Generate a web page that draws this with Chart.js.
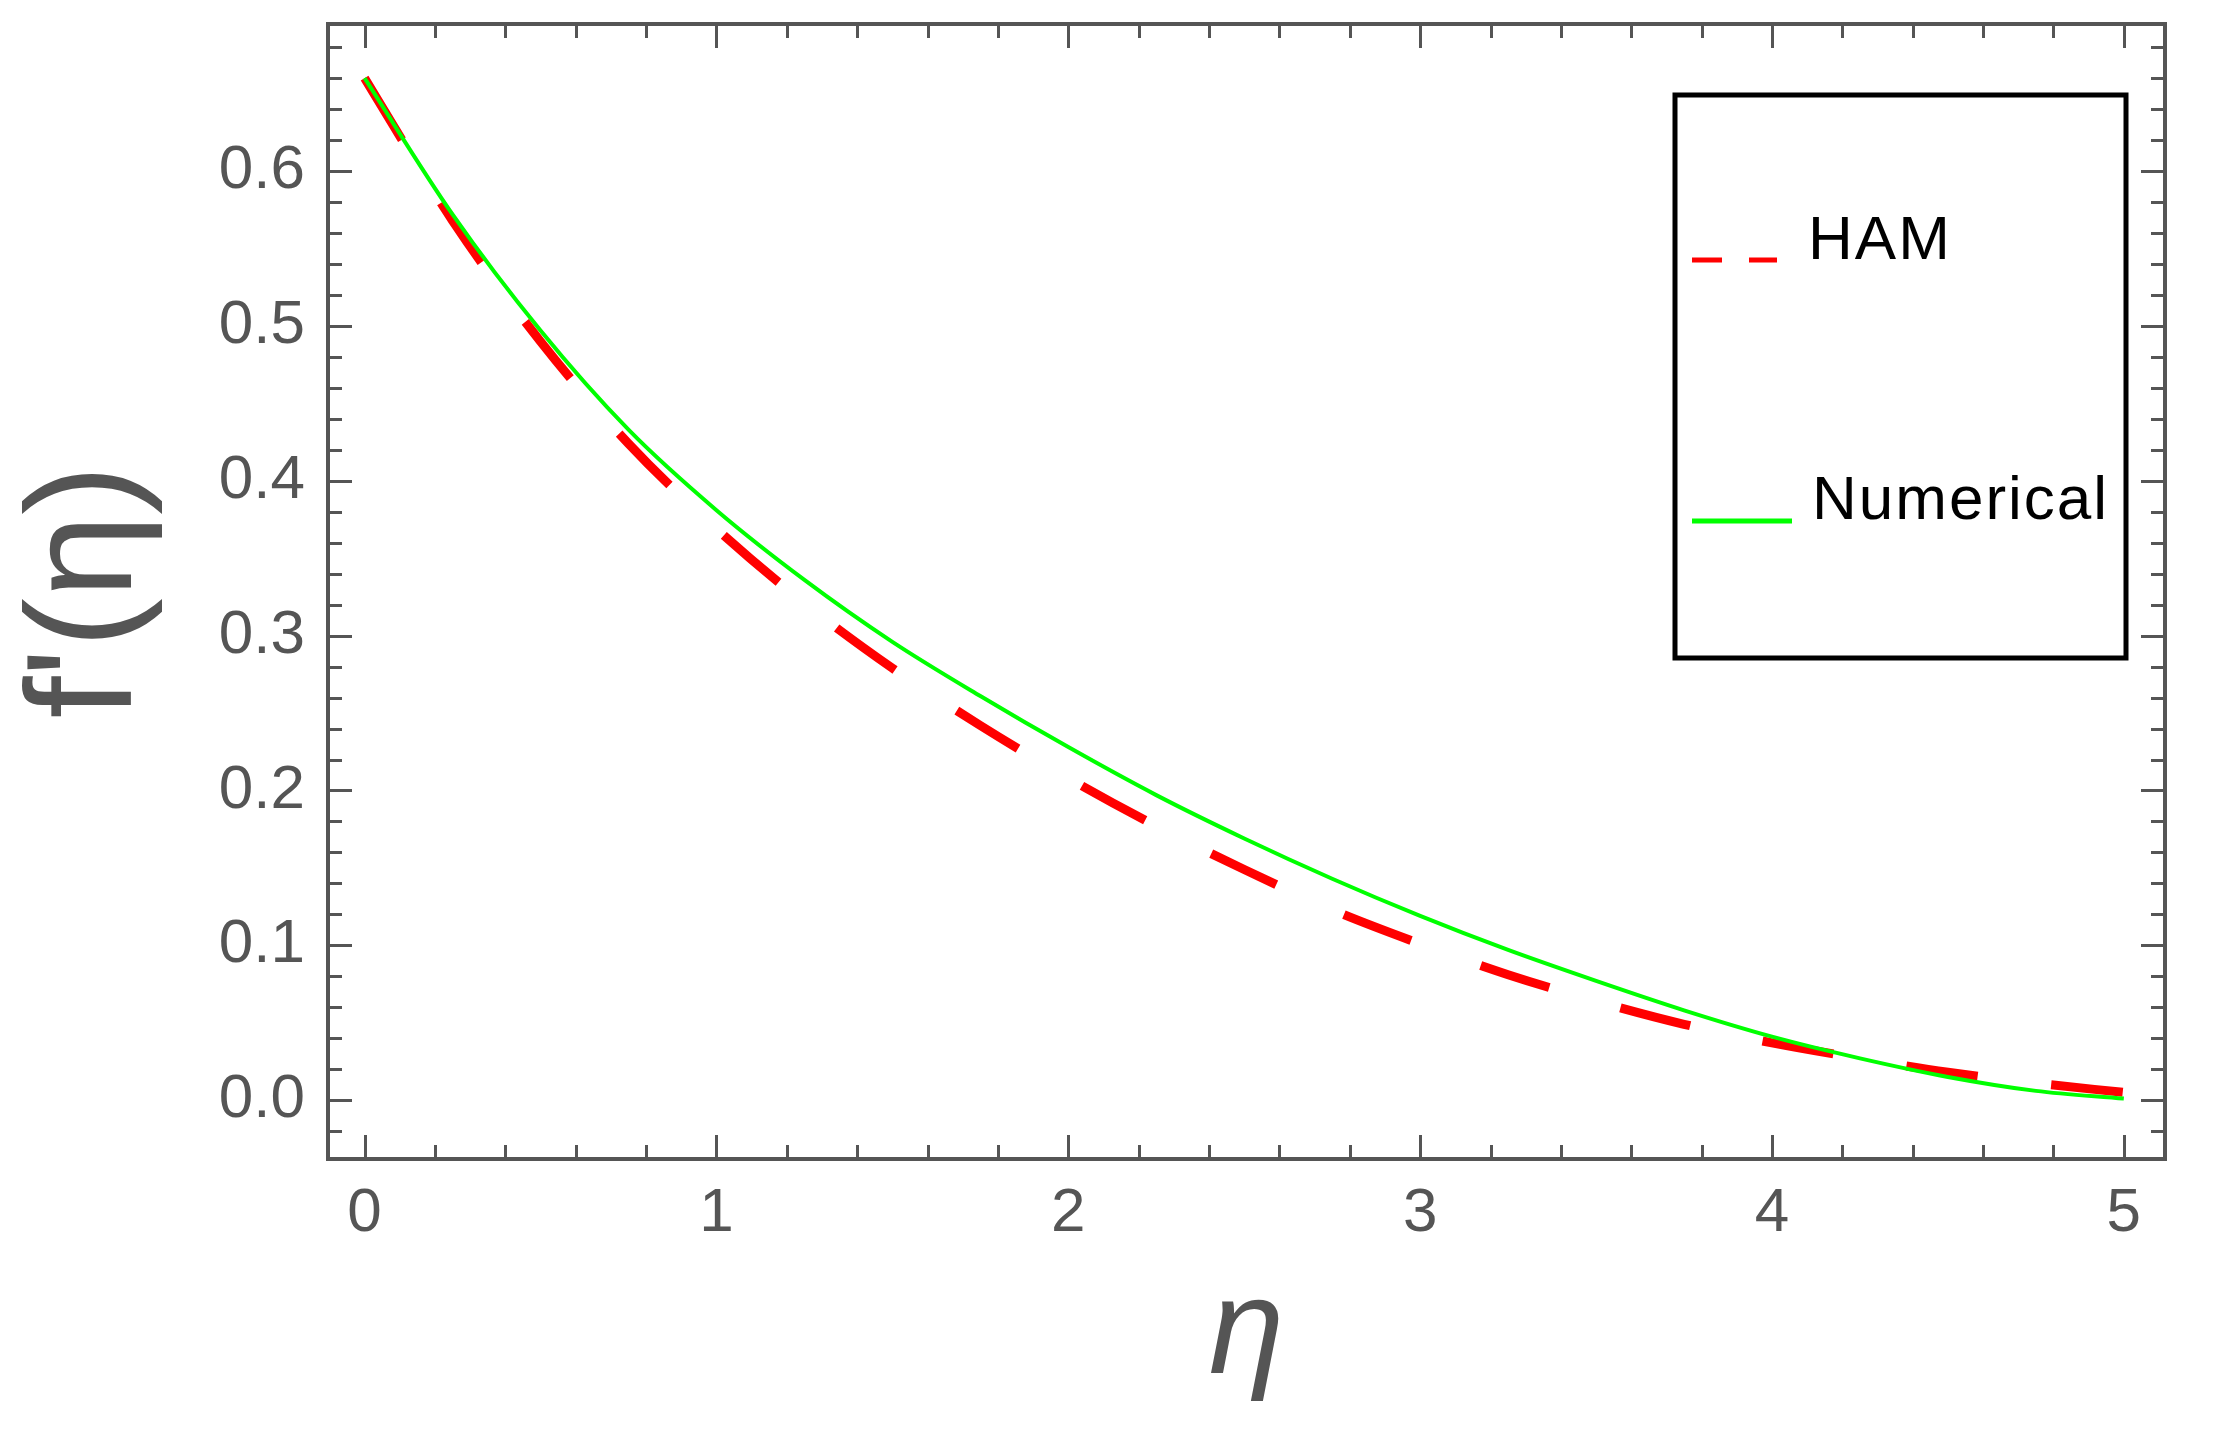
<!DOCTYPE html>
<html>
<head>
<meta charset="utf-8">
<script src="https://cdn.jsdelivr.net/npm/chart.js@4.4.1/dist/chart.umd.min.js"></script>
<style>
    html, body { margin: 0; padding: 0; background: #ffffff; }
    #wrap { width: 2215px; height: 1435px; }
</style>
</head>
<body>
<div id="wrap"><canvas id="c1"></canvas></div>
<script>
var etaValues = [0, 0.25, 0.5, 0.75, 1, 1.25, 1.5, 1.75, 2, 2.25, 2.5, 2.75, 3, 3.25, 3.5, 3.75, 4, 4.25, 4.5, 4.75, 5];
var hamValues = [0.660, 0.568, 0.490, 0.424, 0.369, 0.321, 0.279, 0.242, 0.208, 0.177, 0.149, 0.123, 0.101, 0.081, 0.064, 0.049, 0.037, 0.027, 0.018, 0.011, 0.005];
var numericalValues = [0.660, 0.572, 0.497, 0.433, 0.381, 0.336, 0.296, 0.261, 0.228, 0.197, 0.169, 0.143, 0.119, 0.097, 0.077, 0.058, 0.041, 0.027, 0.015, 0.006, 0.001];
var seriesLabels = ['HAM', 'Numerical'];
var xTickValues = [0, 1, 2, 3, 4, 5];
var yTickValues = [0, 0.1, 0.2, 0.3, 0.4, 0.5, 0.6];

var frameColor = '#555555';
var labelFont = 'Liberation Sans, Arial, sans-serif';

function toPoints(xs, ys) {
    return xs.map(function (x, i) { return { x: x, y: ys[i] }; });
}

// Mathematica style frame: ticks pointing inward on all four sides + legend box
var frameTicks = {
    id: 'frameTicks',
    afterDraw: function (chart) {
        var ctx = chart.ctx;
        var a = chart.chartArea;
        var xs = chart.scales.x;
        var ys = chart.scales.y;

        ctx.save();
        ctx.strokeStyle = frameColor;
        ctx.lineWidth = 3;
        ctx.beginPath();
        for (var i = 0; i <= 25; i++) {
            var px = Math.round(xs.getPixelForValue(i * 0.2)) + 0.5;
            var len = (i % 5 === 0) ? 24 : 14;
            ctx.moveTo(px, a.bottom); ctx.lineTo(px, a.bottom - len);
            ctx.moveTo(px, a.top); ctx.lineTo(px, a.top + len);
        }
        for (var j = -1; j <= 34; j++) {
            var py = Math.round(ys.getPixelForValue(j * 0.02)) + 0.5;
            var ylen = (j % 5 === 0) ? 24 : 14;
            ctx.moveTo(a.left, py); ctx.lineTo(a.left + ylen, py);
            ctx.moveTo(a.right, py); ctx.lineTo(a.right - ylen, py);
        }
        ctx.stroke();

        ctx.lineWidth = 4;
        ctx.strokeRect(a.left, a.top, a.right - a.left, a.bottom - a.top);

        // legend
        var bx = a.left + 1347, by = a.top + 71, bw = 451, bh = 563;
        ctx.fillStyle = '#ffffff';
        ctx.fillRect(bx, by, bw, bh);
        ctx.strokeStyle = '#000000';
        ctx.lineWidth = 5;
        ctx.strokeRect(bx, by, bw, bh);

        ctx.lineWidth = 5;
        ctx.strokeStyle = '#ff0000';
        ctx.setLineDash([30, 27]);
        ctx.beginPath();
        ctx.moveTo(bx + 17, by + 165);
        ctx.lineTo(bx + 102, by + 165);
        ctx.stroke();

        ctx.setLineDash([]);
        ctx.strokeStyle = '#00ff00';
        ctx.beginPath();
        ctx.moveTo(bx + 17, by + 426);
        ctx.lineTo(bx + 117, by + 426);
        ctx.stroke();

        ctx.fillStyle = '#000000';
        ctx.font = '62px ' + labelFont;
        ctx.letterSpacing = '2px';
        ctx.textBaseline = 'middle';
        ctx.textAlign = 'left';
        ctx.fillText(seriesLabels[0], bx + 133, by + 147);
        ctx.fillText(seriesLabels[1], bx + 137, by + 407);
        ctx.restore();
    }
};

var ctx = document.getElementById('c1');
var myChart = new Chart(ctx, {
    type: 'line',
    data: {
        datasets: [{
            label: seriesLabels[0],
            data: toPoints(etaValues, hamValues),
            borderColor: '#ff0000',
            borderWidth: 9,
            borderDash: [72, 74],
            borderCapStyle: 'butt',
            pointRadius: 0,
            cubicInterpolationMode: 'monotone',
            fill: false,
            order: 1
        }, {
            label: seriesLabels[1],
            data: toPoints(etaValues, numericalValues),
            borderColor: '#00ff00',
            borderWidth: 4,
            pointRadius: 0,
            cubicInterpolationMode: 'monotone',
            fill: false,
            order: 0
        }]
    },
    options: {
        responsive: true,
        maintainAspectRatio: false,
        animation: false,
        layout: {
            padding: { top: 24, right: 50, left: 0, bottom: 0 }
        },
        plugins: {
            legend: { display: false },
            tooltip: { enabled: false }
        },
        scales: {
            x: {
                type: 'linear',
                min: -0.104,
                max: 5.117,
                grid: { display: false, drawTicks: false },
                border: { display: false },
                afterBuildTicks: function (scale) {
                    scale.ticks = xTickValues.map(function (v) { return { value: v }; });
                },
                afterFit: function (scale) {
                    scale.height = 276;
                    scale.paddingLeft = 0;
                    scale.paddingRight = 0;
                },
                ticks: {
                    padding: 18,
                    color: frameColor,
                    font: { size: 62, family: labelFont },
                    callback: function (v) { return String(v); }
                },
                title: {
                    display: true,
                    text: 'η',
                    color: frameColor,
                    padding: { top: 18, bottom: 18 },
                    font: { size: 136, family: labelFont, style: 'italic' }
                }
            },
            y: {
                type: 'linear',
                min: -0.038,
                max: 0.695,
                grid: { display: false, drawTicks: false },
                border: { display: false },
                afterBuildTicks: function (scale) {
                    scale.ticks = yTickValues.map(function (v) { return { value: v }; });
                },
                afterFit: function (scale) {
                    scale.width = 328;
                    scale.paddingTop = 0;
                    scale.paddingBottom = 0;
                },
                ticks: {
                    padding: 23,
                    color: frameColor,
                    font: { size: 62, family: labelFont },
                    callback: function (v) { return v.toFixed(1); }
                },
                title: {
                    display: true,
                    text: "f'(η)",
                    color: frameColor,
                    padding: { top: 0, bottom: 0 },
                    font: { size: 150, family: labelFont }
                }
            }
        }
    },
    plugins: [frameTicks]
});
</script>
</body>
</html>
